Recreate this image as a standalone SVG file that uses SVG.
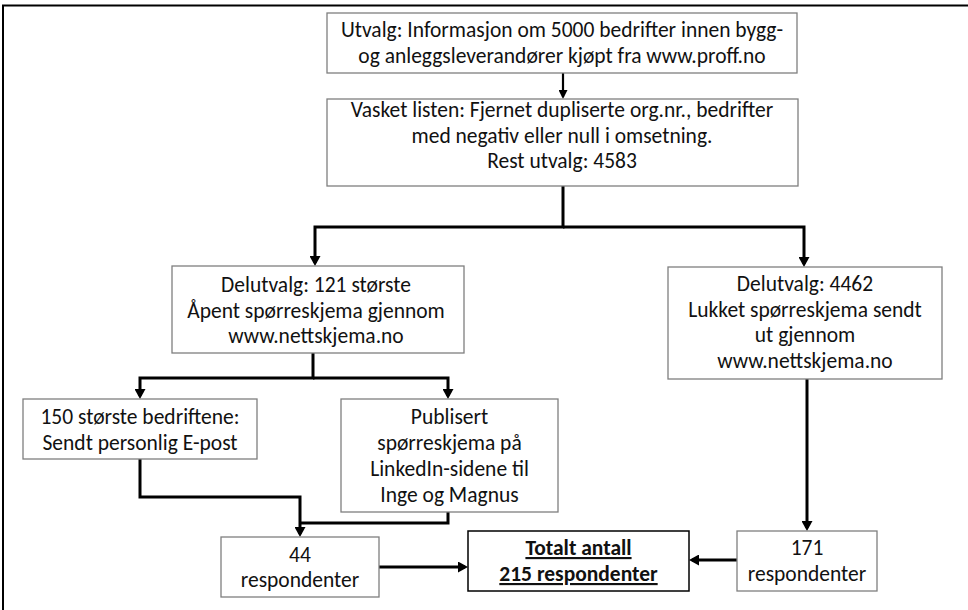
<svg xmlns="http://www.w3.org/2000/svg" width="968" height="610" viewBox="0 0 968 610">
<style>
.box{fill:#fff;stroke:#7f7f7f;stroke-width:1.3}
.boxb{fill:#fff;stroke:#000;stroke-width:1.5}
.t{font-family:Carlito,Lato,"Liberation Sans",sans-serif;font-size:21.5px;fill:#111;text-anchor:middle}
.b{font-weight:bold;text-decoration:underline}
.c{fill:none;stroke:#000;stroke-width:3;stroke-linejoin:miter}
.c2{fill:none;stroke:#000;stroke-width:2.2}
</style>
<defs>
<marker id="ah" markerUnits="userSpaceOnUse" viewBox="0 0 10 11" markerWidth="10" markerHeight="11" refX="7" refY="5.5" orient="auto">
<path d="M0,0 L10,5.5 L0,11 z" fill="#000"/>
</marker>
<marker id="ahs" markerUnits="userSpaceOnUse" viewBox="0 0 9 9" markerWidth="9" markerHeight="9" refX="7" refY="4.5" orient="auto">
<path d="M0,0 L9,4.5 L0,9 z" fill="#000"/>
</marker>
</defs>
<rect width="968" height="610" fill="#fff"/>
<g id="frame">
<path d="M2,5.5 H968 M3,5 V610" fill="none" stroke="#000" stroke-width="2"/>
</g>
<g id="connectors">
<path class="c2" d="M563,73 V97" marker-end="url(#ahs)"/>
<path class="c" d="M563,186 V227 H315 V263" marker-end="url(#ah)"/>
<path class="c" d="M563,227 H804 V264" marker-end="url(#ah)"/>
<path class="c" d="M313,353 V378 H140 V396" marker-end="url(#ah)"/>
<path class="c" d="M313,378 H448 V396" marker-end="url(#ah)"/>
<path class="c" d="M140,459 V497 H300 V534" marker-end="url(#ah)"/>
<path class="c" d="M448,512 V523 H300"/>
<path class="c" d="M807,379 V528" marker-end="url(#ah)"/>
<path class="c" d="M379,567 H465" marker-end="url(#ah)"/>
<path class="c" d="M737,560 H692" marker-end="url(#ah)"/>
</g>
<g id="n1">
<rect class="box" x="327" y="13" width="470" height="60"/>
<text class="t" x="562" y="37">Utvalg: Informasjon om 5000 bedrifter innen bygg-</text>
<text class="t" x="562" y="63">og anleggsleverandører kjøpt fra www.proff.no</text>
</g>
<g id="n2">
<rect class="box" x="327" y="99" width="471" height="87"/>
<text class="t" x="562" y="117">Vasket listen: Fjernet dupliserte org.nr., bedrifter</text>
<text class="t" x="562" y="142.5">med negativ eller null i omsetning.</text>
<text class="t" x="562" y="168">Rest utvalg: 4583</text>
</g>
<g id="n3">
<rect class="box" x="172" y="266" width="292" height="87"/>
<text class="t" x="316" y="292">Delutvalg: 121 største</text>
<text class="t" x="316" y="317.5">Åpent spørreskjema gjennom</text>
<text class="t" x="316" y="343">www.nettskjema.no</text>
</g>
<g id="n4">
<rect class="box" x="668" y="267" width="274" height="112"/>
<text class="t" x="805" y="291">Delutvalg: 4462</text>
<text class="t" x="805" y="317">Lukket spørreskjema sendt</text>
<text class="t" x="805" y="342">ut gjennom</text>
<text class="t" x="805" y="368">www.nettskjema.no</text>
</g>
<g id="n5">
<rect class="box" x="23" y="399" width="234" height="60"/>
<text class="t" x="140" y="424">150 største bedriftene:</text>
<text class="t" x="140" y="450">Sendt personlig E-post</text>
</g>
<g id="n6">
<rect class="box" x="341" y="399" width="217" height="113"/>
<text class="t" x="449.5" y="424">Publisert</text>
<text class="t" x="449.5" y="450">spørreskjema på</text>
<text class="t" x="449.5" y="476">LinkedIn-sidene til</text>
<text class="t" x="449.5" y="502">Inge og Magnus</text>
</g>
<g id="n7">
<rect class="box" x="221" y="537" width="158" height="60"/>
<text class="t" x="300" y="562">44</text>
<text class="t" x="300" y="587">respondenter</text>
</g>
<g id="n8">
<rect class="boxb" x="468" y="531" width="221" height="60"/>
<text class="t b" x="578.5" y="555">Totalt antall</text>
<text class="t b" x="578.5" y="581">215 respondenter</text>
</g>
<g id="n9">
<rect class="box" x="737" y="531" width="140" height="60"/>
<text class="t" x="807" y="555">171</text>
<text class="t" x="807" y="581">respondenter</text>
</g>
</svg>
